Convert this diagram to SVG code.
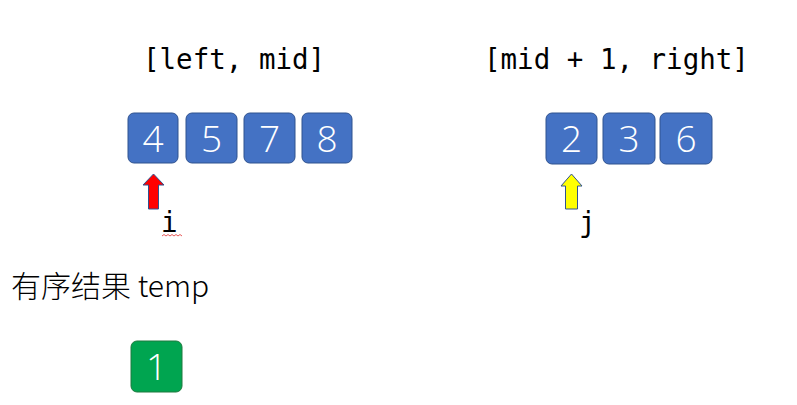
<svg xmlns="http://www.w3.org/2000/svg" width="797" height="405" viewBox="0 0 797 405">
<style>
.lbl{font-family:"DejaVu Sans Mono","Liberation Mono",monospace;font-size:27.5px;fill:#000}
.box{fill:#4472C4;stroke:#2F528F;stroke-width:1}
.gbox{fill:#00A550;stroke:#1E7A3E;stroke-width:1}
.num{font-family:"Open Sans","Noto Sans",sans-serif;font-weight:300;font-size:37px;fill:#fff;text-anchor:middle}
.cjk{font-family:"Noto Sans CJK SC","Noto Sans",sans-serif;font-weight:300;font-size:30px;fill:#000}
.arr{stroke:#2F528F;stroke-width:1}
</style>
<rect width="797" height="405" fill="#fff"/>
<text class="lbl" x="143" y="69">[left, mid]</text>
<text class="lbl" x="484" y="69">[mid + 1, right]</text>
<g id="n4"><rect class="box" x="128" y="113" width="50" height="50" rx="6"/><text class="num" x="153" y="152">4</text></g>
<g id="n5"><rect class="box" x="186" y="113" width="51" height="50" rx="6"/><text class="num" x="211.5" y="152">5</text></g>
<g id="n7"><rect class="box" x="244" y="113" width="51" height="50" rx="6"/><text class="num" x="269.5" y="152">7</text></g>
<g id="n8"><rect class="box" x="302" y="113" width="50" height="50" rx="6"/><text class="num" x="327" y="152">8</text></g>
<g id="n2"><rect class="box" x="546" y="113" width="51" height="51" rx="6"/><text class="num" x="571.5" y="152">2</text></g>
<g id="n3"><rect class="box" x="603" y="113" width="52" height="51" rx="6"/><text class="num" x="629" y="152">3</text></g>
<g id="n6"><rect class="box" x="660" y="113" width="52" height="51" rx="6"/><text class="num" x="686" y="152">6</text></g>
<g id="connectors">
<polygon class="arr" fill="#FF0000" points="153.5,174 164,185 158.5,185 158.5,209 148.5,209 148.5,185 143,185"/>
<polygon class="arr" fill="#FFFF00" points="571.5,174 582,186 577.5,186 577.5,209 565.5,209 565.5,186 561,186"/>
</g>
<text class="lbl" x="161" y="232">i</text>
<path d="M162,236 l2,-1.5 l2,1.5 l2,-1.5 l2,1.5 l2,-1.5 l2,1.5 l2,-1.5 l2,1.5 l2,-1.5 l2,1.5" fill="none" stroke="#E03030" stroke-width="0.8"/>
<text class="lbl" x="579" y="232">j</text>
<text class="cjk" x="11" y="297">有序结果 temp</text>
<g id="n1"><rect class="gbox" x="131" y="341" width="51" height="51" rx="6"/><text class="num" x="156.5" y="380">1</text></g>
</svg>
